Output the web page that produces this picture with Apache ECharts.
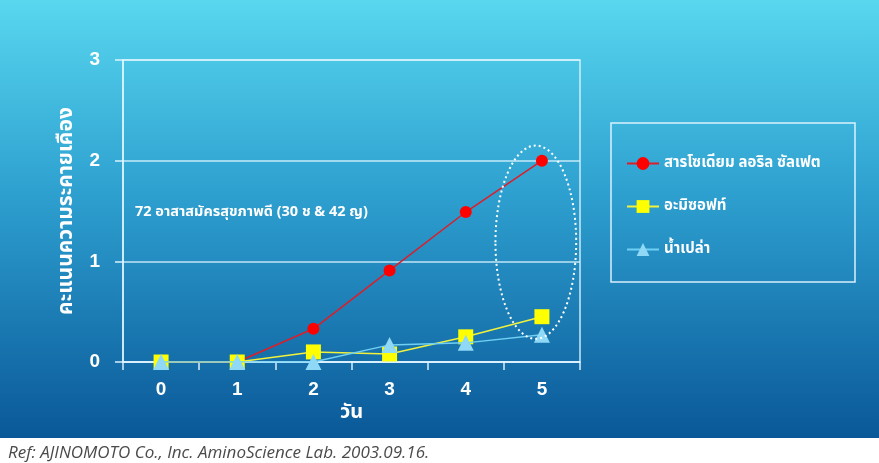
<!DOCTYPE html>
<html>
<head>
<meta charset="utf-8">
<script src="https://cdn.jsdelivr.net/npm/echarts@6/dist/echarts.min.js"></script>
<style>
html,body{margin:0;padding:0;background:#fff;}
#chart{width:879px;height:463px;}
</style>
</head>
<body>
<div id="chart"></div>
<script>
// ---- data ----
const days = ['0', '1', '2', '3', '4', '5'];
const sodiumLaurylSulfate = [0, 0, 0.33, 0.91, 1.49, 2.0];
const amisoft = [0, 0, 0.10, 0.08, 0.25, 0.45];
const water = [0, 0, 0, 0.17, 0.19, 0.27];
const seriesNames = ['สารโซเดียม ลอริล ซัลเฟต', 'อะมิซอฟท์', 'น้ำเปล่า'];
const yTicks = { min: 0, max: 3, interval: 1 };
const yAxisTitle = 'คะแนนความระคายเคือง';
const xAxisTitle = 'วัน';
const noteText = '72 อาสาสมัครสุขภาพดี (30 ช & 42 ญ)';
const refText = 'Ref: AJINOMOTO Co., Inc. AminoScience Lab. 2003.09.16.';
// highlighted region (data units) around day 5
const highlight = { day: 5, yCenter: 1.19, yHalf: 0.96, xHalf: 0.53, xShift: -0.08 };

(function () {
const thaiFont = "'Noto Sans Thai','Noto Sans','DejaVu Sans',sans-serif";
const numFont = "'Liberation Sans', Arial, sans-serif";

const chart = echarts.init(document.getElementById('chart'), null, { renderer: 'canvas' });

const option = {
  backgroundColor: '#ffffff',
  animation: false,
  grid: {
    left: 123, right: 299, top: 60, bottom: 101,
    show: true, borderColor: 'rgba(220,245,255,0.9)', borderWidth: 1.5,
    backgroundColor: 'transparent'
  },
  legend: {
    orient: 'vertical',
    left: 621, top: 151,
    itemGap: 28,
    itemWidth: 32, itemHeight: 16,
    textStyle: { color: '#ffffff', fontWeight: 'bold', fontSize: 15, fontFamily: thaiFont },
    data: seriesNames
  },
  xAxis: {
    type: 'category',
    data: days,
    boundaryGap: true,
    name: xAxisTitle,
    nameLocation: 'middle',
    nameGap: 41,
    nameTextStyle: { color: '#ffffff', fontWeight: 'bold', fontSize: 20, fontFamily: thaiFont },
    axisLine: { show: true, lineStyle: { color: 'rgba(225,245,255,0.95)', width: 1.5 } },
    axisTick: { show: true, length: 8, lineStyle: { color: 'rgba(225,245,255,0.95)', width: 1.5 } },
    axisLabel: { color: '#ffffff', fontWeight: 'bold', fontSize: 19, fontFamily: numFont, margin: 18 },
    splitLine: { show: false }
  },
  yAxis: {
    type: 'value',
    min: yTicks.min, max: yTicks.max, interval: yTicks.interval,
    name: yAxisTitle,
    nameLocation: 'middle',
    nameRotate: 90,
    nameGap: 44,
    nameTextStyle: { color: '#ffffff', fontWeight: 'bold', fontSize: 21, fontFamily: thaiFont },
    axisLine: { show: true, lineStyle: { color: 'rgba(225,245,255,0.95)', width: 1.5 } },
    axisTick: { show: true, length: 8, lineStyle: { color: 'rgba(225,245,255,0.95)', width: 1.5 } },
    axisLabel: { color: '#ffffff', fontWeight: 'bold', fontSize: 19, fontFamily: numFont, margin: 23 },
    splitLine: { show: true, lineStyle: { color: 'rgba(220,245,255,0.85)', width: 1.5 } }
  },
  series: [
    {
      name: seriesNames[0], type: 'line', data: sodiumLaurylSulfate,
      symbol: 'circle', symbolSize: 12, z: 3,
      lineStyle: { color: '#dc1e2a', width: 1.5 },
      itemStyle: { color: '#ff0000' }
    },
    {
      name: seriesNames[1], type: 'line', data: amisoft,
      symbol: 'rect', symbolSize: 15, z: 4,
      lineStyle: { color: '#f2f23c', width: 1.5 },
      itemStyle: { color: '#ffff00' }
    },
    {
      name: seriesNames[2], type: 'line', data: water,
      symbol: 'triangle', symbolSize: 16, z: 5,
      lineStyle: { color: '#70d0f4', width: 1.5 },
      itemStyle: { color: '#8fd9f7' }
    }
  ],
  graphic: [
    {
      type: 'rect', z: -10, silent: true,
      shape: { x: 0, y: 0, width: 879, height: 438 },
      style: {
        fill: new echarts.graphic.LinearGradient(0, 0, 0, 1, [
          { offset: 0, color: '#58d7ef' },
          { offset: 0.45, color: '#2d9fcf' },
          { offset: 1, color: '#0a5898' }
        ])
      }
    },
    {
      type: 'rect', z: 1, silent: true,
      shape: { x: 611, y: 123, width: 244, height: 159 },
      style: { fill: 'transparent', stroke: 'rgba(225,245,255,0.95)', lineWidth: 1.5 }
    },
    {
      type: 'text', z: 10, silent: true,
      x: 135, y: 213,
      style: { text: noteText, fill: '#ffffff', font: "bold 14.5px " + thaiFont, textVerticalAlign: 'middle' }
    },
    {
      type: 'text', z: 10, silent: true,
      x: 8, y: 453,
      style: { text: refText, fill: '#4a4a4a', font: "italic 17px 'Open Sans', sans-serif", textVerticalAlign: 'middle' }
    }
  ]
};

chart.setOption(option);

// dotted ellipse placed via the chart's own scales
const step = chart.convertToPixel({ xAxisIndex: 0 }, 1) - chart.convertToPixel({ xAxisIndex: 0 }, 0);
const cx = chart.convertToPixel({ xAxisIndex: 0 }, highlight.day) + highlight.xShift * step;
const cy = chart.convertToPixel({ yAxisIndex: 0 }, highlight.yCenter);
const yTop = chart.convertToPixel({ yAxisIndex: 0 }, highlight.yCenter + highlight.yHalf);
chart.setOption({
  graphic: option.graphic.concat([{
    type: 'ellipse', z: 20, silent: true,
    shape: { cx: cx, cy: cy, rx: highlight.xHalf * step, ry: cy - yTop },
    style: { fill: 'transparent', stroke: '#ffffff', lineWidth: 2, lineDash: [2, 3] }
  }])
});
})();
</script>
</body>
</html>
